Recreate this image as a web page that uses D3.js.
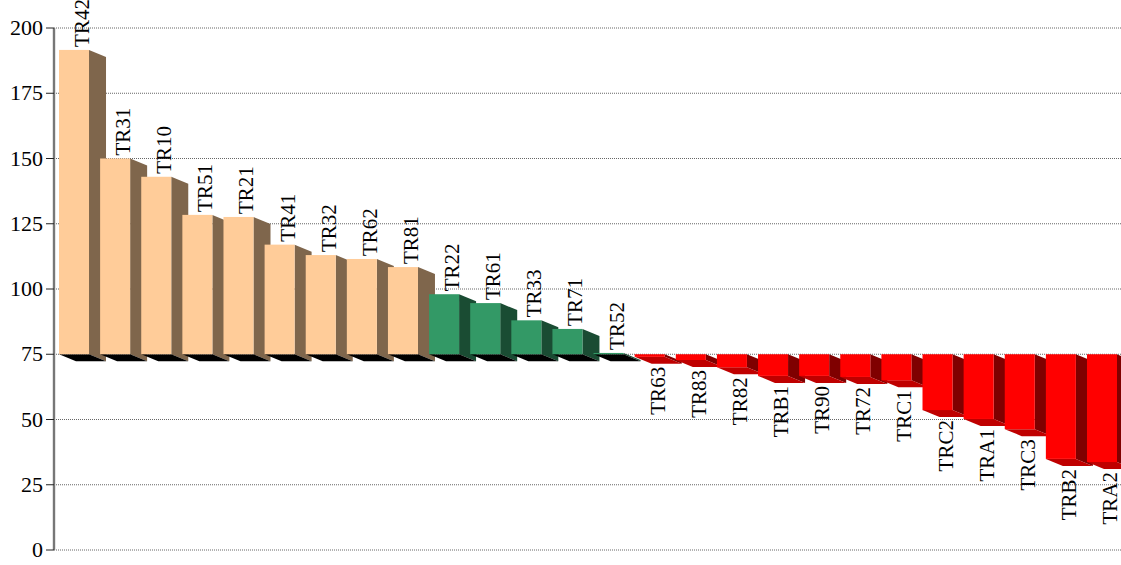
<!DOCTYPE html>
<html>
<head>
  <meta charset="utf-8">
  <script src="https://d3js.org/d3.v7.min.js"></script>
  <style>
    body { margin: 0; background: #fff; }
    svg { display: block; }
    text { font-family: "Liberation Serif", serif; fill: #000; }
    .grid line { stroke: #666; stroke-width: 1; stroke-dasharray: 1 1; }
  </style>
</head>
<body>
  <script>
    // Values
    const categories = [
      "TR42", "TR31", "TR10", "TR51", "TR21", "TR41", "TR32", "TR62", "TR81",
      "TR22", "TR61", "TR33", "TR71", "TR52",
      "TR63", "TR83", "TR82", "TRB1", "TR90", "TR72", "TRC1", "TRC2", "TRA1", "TRC3", "TRB2", "TRA2"
    ];
    const values = [
      191.6, 150, 143, 128.4, 127.6, 117, 113, 111.5, 108.4,
      98, 94.6, 88, 84.7, 75.5,
      74, 72.8, 70, 66.7, 66.7, 66.3, 65, 53.6, 50.2, 46.3, 34.9, 33.7
    ];
    const yTicks = [0, 25, 50, 75, 100, 125, 150, 175, 200];
    const baseValue = 75;

    const width = 1121;
    const height = 565;
    const depthX = 17;
    const depthY = 7;

    const svg = d3.select("body").append("svg")
      .attr("width", width)
      .attr("height", height);

    const x = d3.scaleBand()
      .domain(categories)
      .range([59, 1117])
      .paddingInner(0.27)
      .paddingOuter(0);

    const y = d3.scaleLinear().domain([0, 200]).range([550, 28]);

    // front, side and floor colours by value range
    const front = d3.scaleThreshold().domain([75, 100]).range(["#ff0000", "#339966", "#ffcc99"]);
    const side = d3.scaleThreshold().domain([75, 100]).range(["#7f0000", "#1a4c33", "#7f664c"]);
    const floor = d3.scaleThreshold().domain([75, 100]).range(["#bf0000", "#000000", "#000000"]);

    // grid
    svg.append("g")
      .attr("class", "grid")
      .selectAll("line")
      .data(yTicks)
      .join("line")
      .attr("x1", 54)
      .attr("x2", width)
      .attr("y1", d => y(d))
      .attr("y2", d => y(d));

    // axis
    const axis = svg.append("g")
      .attr("transform", "translate(54,0)")
      .call(d3.axisLeft(y).tickValues(yTicks).tickSize(8).tickSizeOuter(0).tickPadding(3).offset(0));
    axis.select(".domain").attr("stroke", "#777").attr("stroke-width", 2.4);
    axis.selectAll(".tick line").attr("stroke", "#222");
    axis.selectAll("text").style("font-size", "22px").attr("font-family", null);

    // bars, left to right so each one covers the side of the previous
    const poly = pts => pts.map(p => p.join(",")).join(" ");
    const base = y(baseValue);
    const w = x.bandwidth();

    const bars = svg.append("g")
      .selectAll("g")
      .data(categories.map((name, i) => ({ name, value: values[i] })))
      .join("g");

    bars.append("polygon")
      .attr("fill", d => side(d.value))
      .attr("points", d => {
        const x1 = x(d.name) + w;
        const yTop = Math.min(y(d.value), base);
        const yBot = Math.max(y(d.value), base);
        return poly([[x1, yTop], [x1 + depthX, yTop + depthY], [x1 + depthX, yBot + depthY], [x1, yBot]]);
      });

    bars.append("polygon")
      .attr("fill", d => floor(d.value))
      .attr("points", d => {
        const x0 = x(d.name);
        const yBot = Math.max(y(d.value), base);
        return poly([[x0, yBot], [x0 + w, yBot], [x0 + w + depthX, yBot + depthY], [x0 + depthX, yBot + depthY]]);
      });

    bars.append("rect")
      .attr("fill", d => front(d.value))
      .attr("x", d => x(d.name))
      .attr("width", w)
      .attr("y", d => Math.min(y(d.value), base))
      .attr("height", d => Math.abs(y(d.value) - base));

    // labels go on top of everything
    svg.append("g")
      .selectAll("text")
      .data(categories.map((name, i) => ({ name, value: values[i] })))
      .join("text")
      .attr("transform", d => {
        const up = d.value >= baseValue;
        const ty = up ? y(d.value) - 3 : y(d.value) + depthY + 3;
        return `translate(${x(d.name) + 30},${ty}) rotate(-90)`;
      })
      .attr("text-anchor", d => d.value >= baseValue ? "start" : "end")
      .style("font-size", "21px")
      .text(d => d.name);
  </script>
</body>
</html>
